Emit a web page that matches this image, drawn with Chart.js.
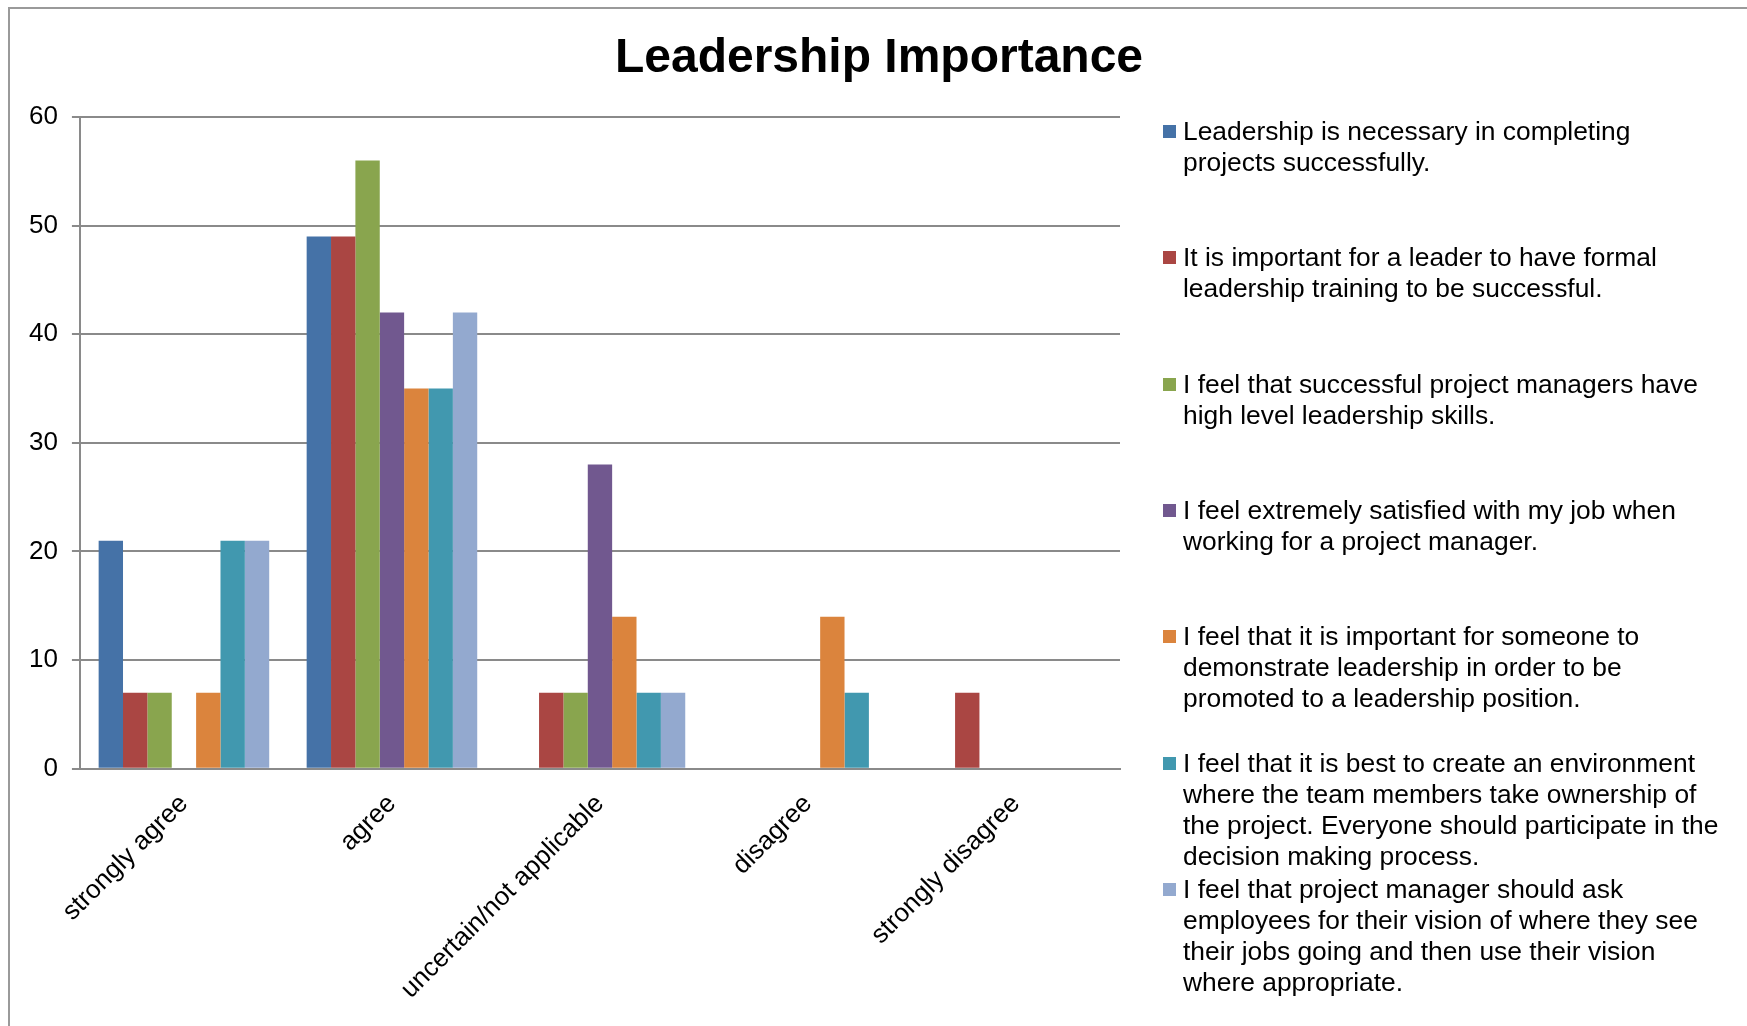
<!DOCTYPE html>
<html>
<head>
<meta charset="utf-8">
<script src="https://cdn.jsdelivr.net/npm/chart.js@4.4.0/dist/chart.umd.min.js"></script>
<style>
body { margin: 0; background: #fff; }
#wrap { position: relative; width: 1747px; height: 1026px; overflow: hidden; }
#frame { position: absolute; left: 8px; top: 7px; width: 1800px; height: 1100px; border: 2px solid #9a9a9a; }
#chartBox { position: absolute; left: 0; top: 0; width: 1747px; height: 1026px; }
#titulo { position: absolute; left: 579px; width: 600px; top: 26px; text-align: center;
  font-family: "Liberation Sans", Arial, sans-serif; font-weight: bold; font-size: 48px; line-height: 60px; color: #000; }
#leyenda { position: absolute; left: 1163px; top: 0; width: 580px;
  font-family: "Liberation Sans", Arial, sans-serif; font-size: 26.4px; line-height: 31px; color: #000; }
.item { position: absolute; left: 0; padding-left: 20px; white-space: nowrap; }
.cuadro { position: absolute; left: 0; top: 9px; width: 13px; height: 13px; }
</style>
</head>
<body>
<div id="wrap">
  <div id="frame"></div>
  <div id="chartBox"><canvas id="myChart"></canvas></div>
  <div id="titulo">Leadership Importance</div>
  <div id="leyenda"></div>
</div>
<script>
// categorias del eje x
const categorias = ['strongly agree', 'agree', 'uncertain/not applicable', 'disagree', 'strongly disagree'];

// preguntas (una serie por pregunta), partidas en lineas como en la leyenda original
const preguntas = [
    ['Leadership is necessary in completing', 'projects successfully.'],
    ['It is important for a leader to have formal', 'leadership training to be successful.'],
    ['I feel that successful project managers have', 'high level leadership skills.'],
    ['I feel extremely satisfied with my job when', 'working for a project manager.'],
    ['I feel that it is important for someone to', 'demonstrate leadership in order to be', 'promoted to a leadership position.'],
    ['I feel that it is best to create an environment', 'where the team members take ownership of', 'the project. Everyone should participate in the', 'decision making process.'],
    ['I feel that project manager should ask', 'employees for their vision of where they see', 'their jobs going and then use their vision', 'where appropriate.']
];

// valores por serie (strongly agree, agree, uncertain, disagree, strongly disagree)
const serie1 = [21, 49, 0, 0, 0];
const serie2 = [7, 49, 7, 0, 7];
const serie3 = [7, 56, 7, 0, 0];
const serie4 = [0, 42, 28, 0, 0];
const serie5 = [7, 35, 14, 14, 0];
const serie6 = [21, 35, 7, 7, 0];
const serie7 = [21, 42, 7, 0, 0];

const ticksY = [0, 10, 20, 30, 40, 50, 60];

const colores = ['#4572A7', '#AA4643', '#89A54E', '#71588F', '#DB843D', '#4198AF', '#93A9CF'];
const valores = [serie1, serie2, serie3, serie4, serie5, serie6, serie7];

const fuente = '"Liberation Sans", Arial, sans-serif';

var ctx = document.getElementById('myChart').getContext('2d');
var myChart = new Chart(ctx, {
    type: 'bar',
    data: {
        labels: categorias,
        datasets: valores.map((v, i) => ({
            label: preguntas[i].join(' '),
            data: v,
            backgroundColor: colores[i],
            borderWidth: 0,
            barPercentage: 1,
            categoryPercentage: 0.82
        }))
    },
    options: {
        responsive: true,
        maintainAspectRatio: false,
        animation: false,
        layout: {
            padding: { top: 117, left: 15, right: 627, bottom: 9 }
        },
        plugins: {
            legend: { display: false },
            title: { display: false },
            tooltip: { enabled: false }
        },
        scales: {
            x: {
                grid: { display: false },
                border: { display: true, color: '#8a8a8a', width: 2 },
                ticks: {
                    color: '#000',
                    font: { family: fuente, size: 26 },
                    maxRotation: 45,
                    minRotation: 45,
                    padding: 12
                }
            },
            y: {
                min: 0,
                max: 60,
                afterBuildTicks: (scale) => {
                    scale.ticks = ticksY.map(t => ({ value: t }));
                },
                grid: { color: '#8a8a8a', lineWidth: 2, tickLength: 8 },
                border: { display: true, color: '#8a8a8a', width: 2 },
                ticks: {
                    color: '#000',
                    font: { family: fuente, size: 26 },
                    padding: 14
                }
            }
        }
    }
});

// leyenda en html para poder partir el texto en varias lineas
const leyenda = document.getElementById('leyenda');
preguntas.forEach((lineas, i) => {
    const item = document.createElement('div');
    item.className = 'item';
    item.style.top = (116 + i * 126.3) + 'px';
    item.innerHTML = `<span class="cuadro" style="background:${colores[i]}"></span>` + lineas.join('<br>');
    leyenda.appendChild(item);
});
</script>
</body>
</html>
